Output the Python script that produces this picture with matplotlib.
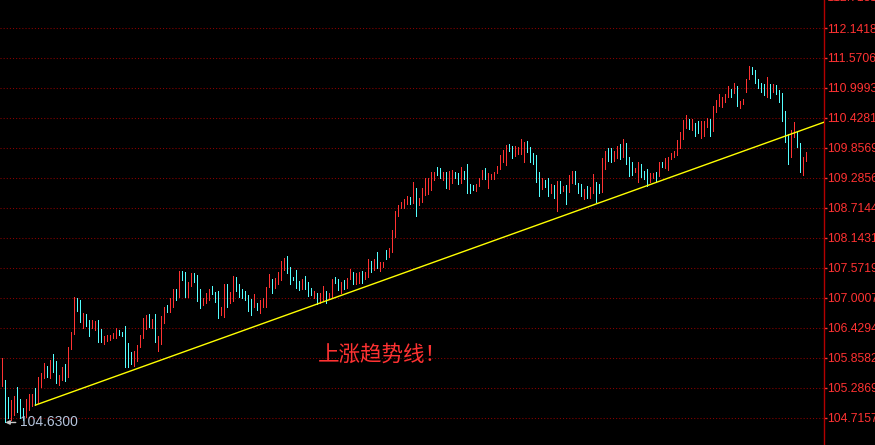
import matplotlib
matplotlib.use("Agg")
import matplotlib.pyplot as plt
import numpy as np

# 每根K线的最高价 / 最低价
highs = [
    105.86, 105.44, 105.12, 105.06, 105.13, 105.31, 105.08, 104.91, 105.08, 105.17,
    105.17, 105.29, 105.50, 105.57, 105.76, 105.71, 105.82, 105.93, 105.80, 105.53,
    105.69, 105.74, 106.07, 106.35, 107.02, 107.00, 106.96, 106.72, 106.70, 106.58,
    106.58, 106.56, 106.58, 106.41, 106.28, 106.30, 106.30, 106.33, 106.43, 106.39,
    106.35, 106.47, 106.14, 105.97, 105.99, 106.11, 106.30, 106.62, 106.68, 106.70,
    106.60, 106.70, 106.28, 106.66, 106.83, 106.87, 107.00, 107.17, 107.17, 107.52,
    107.52, 107.50, 107.31, 107.48, 107.48, 107.44, 107.17, 107.00, 107.10, 107.17,
    107.23, 107.11, 107.13, 106.83, 107.27, 107.27, 107.11, 107.42, 107.40, 107.27,
    107.17, 107.13, 107.06, 106.98, 107.08, 106.91, 106.96, 107.00, 107.21, 107.46,
    107.36, 107.38, 107.50, 107.71, 107.76, 107.80, 107.59, 107.40, 107.53, 107.32,
    107.36, 107.42, 107.31, 107.19, 107.13, 107.10, 107.10, 107.23, 107.13, 107.10,
    107.36, 107.40, 107.36, 107.31, 107.34, 107.38, 107.55, 107.50, 107.48, 107.50,
    107.52, 107.50, 107.74, 107.71, 107.74, 107.88, 107.69, 107.69, 107.91, 107.95,
    108.30, 108.66, 108.77, 108.83, 108.89, 108.94, 108.92, 109.21, 109.10, 108.91,
    109.10, 109.29, 109.29, 109.40, 109.40, 109.50, 109.48, 109.40, 109.40, 109.42,
    109.44, 109.40, 109.38, 109.50, 109.42, 109.55, 109.17, 109.15, 109.17, 109.29,
    109.44, 109.48, 109.38, 109.36, 109.40, 109.51, 109.72, 109.82, 109.91, 109.93,
    109.89, 109.89, 109.88, 110.03, 109.97, 109.99, 109.88, 109.76, 109.72, 109.40,
    109.29, 109.25, 109.29, 109.17, 109.15, 109.23, 109.23, 109.13, 109.15, 109.34,
    109.42, 109.42, 109.19, 109.17, 109.08, 109.13, 109.12, 109.36, 109.21, 109.17,
    109.67, 109.80, 109.86, 109.86, 109.80, 109.89, 109.93, 110.03, 109.95, 109.69,
    109.59, 109.48, 109.59, 109.55, 109.42, 109.46, 109.38, 109.38, 109.40, 109.59,
    109.59, 109.67, 109.69, 109.76, 109.80, 110.01, 110.16, 110.39, 110.49, 110.41,
    110.41, 110.33, 110.37, 110.37, 110.37, 110.43, 110.41, 110.66, 110.77, 110.89,
    110.83, 110.89, 111.04, 110.98, 111.09, 111.04, 110.75, 110.79, 111.17, 111.42,
    111.40, 111.34, 111.17, 111.09, 111.08, 111.21, 111.08, 111.08, 111.06, 110.96,
    110.90, 110.56, 110.12, 110.20, 110.35, 110.16, 109.95, 109.69, 109.78,
]
lows = [
    105.33, 104.63, 104.72, 104.68, 104.77, 104.83, 104.72, 104.68, 104.73, 104.87,
    104.94, 104.96, 105.00, 105.31, 105.48, 105.50, 105.48, 105.59, 105.38, 105.34,
    105.44, 105.42, 105.50, 106.03, 106.32, 106.75, 106.54, 106.43, 106.47, 106.28,
    106.43, 106.39, 106.16, 106.16, 106.12, 106.18, 106.20, 106.24, 106.24, 106.30,
    106.28, 105.69, 105.69, 105.74, 105.71, 105.80, 106.07, 106.24, 106.41, 106.45,
    106.43, 106.16, 105.99, 106.12, 106.52, 106.73, 106.73, 106.83, 106.96, 107.02,
    107.34, 107.02, 107.02, 107.23, 107.31, 106.94, 106.81, 106.87, 106.91, 106.96,
    107.08, 106.92, 106.62, 106.68, 106.64, 106.83, 106.91, 106.94, 107.13, 107.02,
    107.00, 106.96, 106.75, 106.68, 106.83, 106.77, 106.72, 106.83, 106.83, 107.21,
    107.10, 107.19, 107.27, 107.34, 107.53, 107.48, 107.27, 107.34, 107.19, 107.15,
    107.17, 107.17, 107.04, 107.06, 107.00, 106.89, 106.91, 106.96, 106.91, 106.98,
    107.00, 107.29, 107.15, 107.10, 107.17, 107.19, 107.36, 107.27, 107.27, 107.29,
    107.29, 107.36, 107.40, 107.50, 107.53, 107.57, 107.52, 107.59, 107.74, 107.78,
    107.88, 108.16, 108.56, 108.72, 108.72, 108.79, 108.79, 108.81, 108.56, 108.77,
    108.83, 108.96, 108.98, 109.06, 109.25, 109.34, 109.29, 109.25, 109.10, 109.08,
    109.19, 109.29, 109.17, 109.19, 109.27, 109.00, 109.00, 109.06, 109.04, 109.13,
    109.27, 109.27, 109.10, 109.27, 109.27, 109.38, 109.46, 109.59, 109.53, 109.80,
    109.67, 109.70, 109.74, 109.74, 109.59, 109.78, 109.59, 109.55, 109.21, 108.94,
    109.08, 109.12, 108.94, 109.00, 108.91, 108.66, 109.00, 109.04, 108.79, 109.02,
    109.19, 109.17, 109.00, 108.94, 108.89, 108.91, 108.91, 109.00, 108.83, 109.00,
    109.02, 109.46, 109.61, 109.59, 109.61, 109.67, 109.65, 109.69, 109.55, 109.32,
    109.34, 109.40, 109.21, 109.31, 109.27, 109.13, 109.21, 109.29, 109.21, 109.32,
    109.50, 109.48, 109.44, 109.65, 109.69, 109.72, 109.86, 110.03, 110.24, 110.22,
    110.20, 110.09, 110.14, 110.05, 110.09, 110.26, 110.09, 110.18, 110.54, 110.66,
    110.64, 110.73, 110.83, 110.83, 110.90, 110.66, 110.62, 110.69, 110.92, 111.17,
    111.27, 111.09, 111.00, 110.92, 110.87, 110.83, 110.81, 110.92, 110.89, 110.73,
    110.37, 109.97, 109.55, 109.69, 110.07, 109.88, 109.40, 109.34, 109.61,
]
# 1 = 阳线(红), 0 = 阴线(青)
up = [
    1, 0, 0, 1, 1, 0, 0, 0, 1, 1,
    1, 0, 1, 1, 1, 0, 1, 0, 0, 1,
    1, 0, 1, 1, 1, 0, 0, 1, 0, 0,
    1, 1, 0, 0, 1, 1, 1, 1, 1, 0,
    0, 0, 0, 0, 1, 1, 1, 1, 1, 0,
    1, 0, 1, 1, 1, 0, 1, 1, 0, 1,
    0, 0, 1, 1, 0, 0, 0, 1, 1, 1,
    0, 0, 0, 1, 1, 0, 1, 1, 0, 0,
    0, 0, 0, 0, 1, 0, 1, 1, 1, 1,
    0, 1, 1, 1, 1, 0, 0, 0, 0, 0,
    1, 0, 0, 0, 1, 0, 1, 1, 0, 1,
    1, 0, 0, 1, 0, 1, 1, 0, 1, 1,
    0, 1, 1, 0, 1, 0, 1, 1, 0, 1,
    1, 1, 1, 1, 1, 1, 0, 1, 0, 1,
    1, 1, 1, 1, 1, 0, 0, 1, 0, 1,
    1, 0, 0, 1, 0, 0, 0, 0, 1, 1,
    1, 0, 1, 1, 1, 1, 1, 1, 1, 0,
    0, 1, 1, 1, 1, 0, 0, 0, 0, 0,
    1, 0, 0, 1, 0, 1, 0, 1, 0, 1,
    1, 0, 0, 0, 1, 0, 1, 1, 0, 0,
    1, 1, 0, 0, 1, 1, 0, 1, 0, 0,
    0, 1, 1, 0, 0, 0, 1, 1, 0, 1,
    0, 1, 1, 1, 1, 1, 1, 1, 1, 0,
    1, 0, 0, 1, 1, 1, 0, 1, 1, 1,
    1, 1, 1, 0, 1, 0, 1, 1, 1, 1,
    0, 0, 0, 0, 0, 1, 0, 1, 0, 0,
    0, 0, 0, 1, 1, 0, 0, 1, 1,
]

# 右侧价格刻度
tick_labels = ['104.7157', '105.2869', '105.8582', '106.4294', '107.0007',
               '107.5719', '108.1431', '108.7144', '109.2856', '109.8569',
               '110.4281', '110.9993', '111.5706', '112.1418', '112.7131']

# 趋势线两端 (K线序号, 价格)
trend_x = [11, 274]
trend_y = [104.96, 110.35]

low_mark = 104.63
note = '上涨趋势线！'

RED = '#ff3232'
CYAN = '#54ffff'

fig = plt.figure(figsize=(8.75, 4.45), dpi=100, facecolor='black')
ax = fig.add_axes([0, 0, 824 / 875, 1])
ax.set_facecolor('black')

x = np.arange(len(highs))
colors = [RED if u else CYAN for u in up]

# 网格线
ticks = [float(t) for t in tick_labels]
for t in ticks:
    ax.axhline(t, color='#8c0000', lw=0.75, dashes=(1.0, 2.0), zorder=0)

ax.vlines(x, lows, highs, colors=colors, lw=0.72, antialiased=False, zorder=2)
ax.plot(trend_x, trend_y, color='#ffff00', lw=1.0, zorder=3)

ax.set_xlim(-0.77, 273.9)
ax.set_ylim(104.201, 112.675)

ax.yaxis.tick_right()
ax.set_yticks(ticks[:-1])
ax.set_yticklabels(tick_labels[:-1])
ax.tick_params(axis='y', colors=RED, length=2, width=1, pad=0.5, labelsize=8.8,
               labelfontfamily='Liberation Sans')
ax.set_xticks([])
for s in ['top', 'left', 'bottom']:
    ax.spines[s].set_visible(False)
ax.spines['right'].set_color('#b40000')
ax.spines['right'].set_linewidth(1.0)

# 最上面一个刻度被裁掉一半
ax.text(1.0, ticks[-1], ' ' + tick_labels[-1], transform=ax.get_yaxis_transform(),
        color=RED, fontsize=8.8, family='Liberation Sans', ha='left', va='center',
        clip_on=False)

# 最低点标注
ax.annotate('104.6300', xy=(1, low_mark), xytext=(10.5, 0), textcoords='offset points',
            color='#b4c4dc', fontsize=10, family='Liberation Sans', ha='left', va='center',
            arrowprops=dict(arrowstyle='-|>', color='#c8c8c8', lw=1.0,
                            mutation_scale=6, shrinkA=1, shrinkB=0))

ax.text(105.2, 105.92, note, color=RED, fontsize=15.5,
        family=['Noto Sans CJK SC', 'DejaVu Sans'], ha='left', va='center', zorder=4)

fig.savefig('out.png', dpi=100, facecolor='black')
